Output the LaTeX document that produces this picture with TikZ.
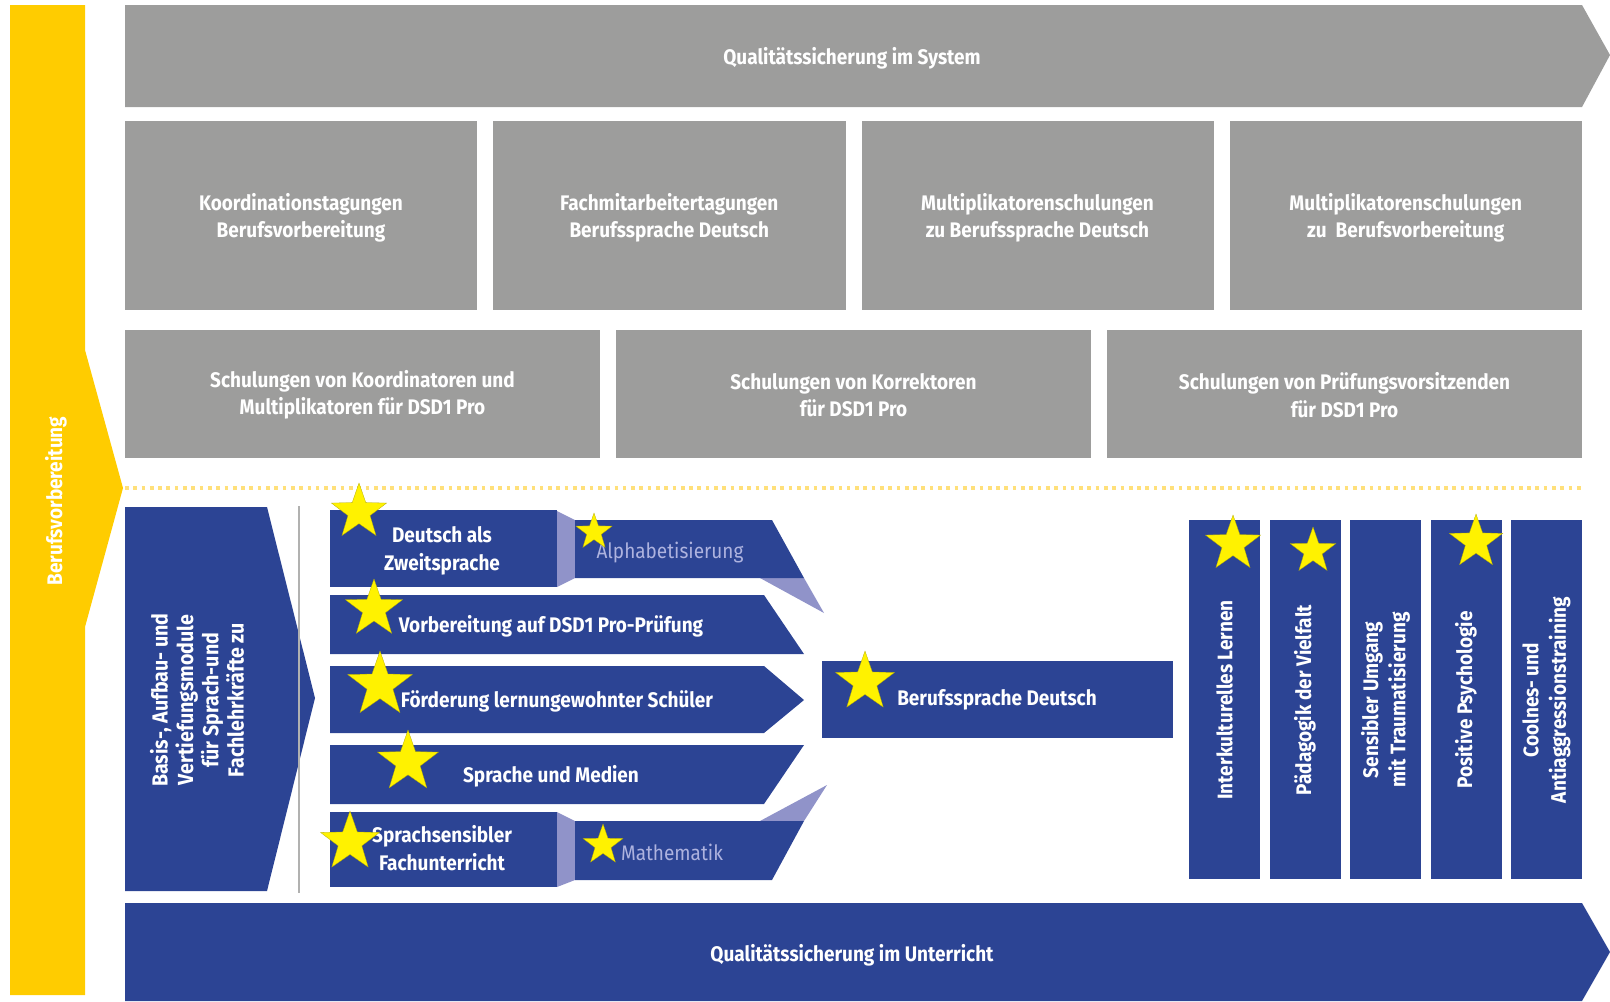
\documentclass[tikz,border=0pt]{standalone}
\usepackage{fontspec}
\setmainfont{Fira Sans}[FakeStretch=0.9]
\usetikzlibrary{shapes.geometric}

\definecolor{qgrey}{HTML}{9D9D9C}
\definecolor{qblue}{HTML}{2C4494}
\definecolor{qyellow}{HTML}{FFCC00}
\definecolor{qstar}{HTML}{FFF200}
\definecolor{qlav}{HTML}{9093C9}
\definecolor{qlavtext}{HTML}{AEB3DF}
\definecolor{qdot}{HTML}{FFE07A}

\tikzset{
  box text/.style={text=white, align=center, inner sep=0pt,
                   font=\bfseries\fontsize{15}{19.5}\selectfont},
  thin text/.style={text=qlavtext, inner sep=0pt,
                   font=\fontsize{15}{19.5}\selectfont},
  euro star/.style={star, star points=5, star point ratio=2.5, inner sep=0pt,
                   fill=qstar, draw=qstar!70!black, line width=0.2pt, minimum size=#1},
  euro star/.default=1.5cm
}

\begin{document}
\begin{tikzpicture}[x=0.025cm, y=-0.025cm]
\useasboundingbox (0,0) rectangle (1610,1001);

% Berufsvorbereitung
\fill[qyellow] (10,5) -- (85,5) -- (85,350) -- (123,488) -- (85,627) -- (85,995) -- (10,995) -- cycle;
\node[box text, rotate=90] (beruf) at (56,501) {Berufsvorbereitung};

% system level
\fill[qgrey] (125,5) -- (1582,5) -- (1610,55) -- (1582,107) -- (125,107) -- cycle;
\node[box text] (system) at (852,58) {Qualitätssicherung im System};

\foreach \x/\txt [count=\i] in {125/{Koordinationstagungen\\Berufsvorbereitung},
    493.25/{Fachmitarbeitertagungen\\Berufssprache Deutsch},
    861.5/{Multiplikatorenschulungen\\zu Berufssprache Deutsch},
    1229.75/{Multiplikatorenschulungen\\zu~ Berufsvorbereitung}}{
  \fill[qgrey] (\x,121) rectangle ++(352.25,189);
  \node[box text] (tagung\i) at (\x+176,218) {\txt};
}

\foreach \x/\txt [count=\i] in {125/{Schulungen von Koordinatoren und\\Multiplikatoren für DSD1 Pro},
    616/{Schulungen von Korrektoren\\für DSD1 Pro},
    1107/{Schulungen von Prüfungsvorsitzenden\\für DSD1 Pro}}{
  \fill[qgrey] (\x,330) rectangle ++(475,128);
  \node[box text] (schulung\i) at (\x+237.5,395) {\txt};
}

\draw[qdot, line width=2.4pt, dash pattern=on 2.6pt off 3.3pt] (125,488) -- (1582,488);

% Unterricht
\fill[qblue] (125,507) -- (267,507) -- (315,698) -- (267,891) -- (125,891) -- cycle;
\node[box text, rotate=90, font=\bfseries\fontsize{15.5}{18}\selectfont] (basis) at (197,700)
  {Basis-, Aufbau- und\\Vertiefungsmodule\\für Sprach-und\\Fachlehrkräfte zu};
\draw[qgrey!80, line width=1.2pt] (299,506) -- (299,893);

\fill[qblue] (330,510) rectangle (557,587);
\fill[qlav] (557,511) -- (575,520) -- (575,578) -- (557,587) -- cycle;
\fill[qlav] (760,578) -- (804,578) -- (824,613) -- cycle;
\fill[qblue] (575,520) -- (772,520) -- (804,578) -- (575,578) -- cycle;
\fill[qblue] (330,595) -- (764,595) -- (804,654) -- (330,654) -- cycle;
\fill[qblue] (330,666) -- (764,666) -- (804,700) -- (764,733) -- (330,733) -- cycle;
\fill[qblue] (330,745) -- (804,745) -- (764,804) -- (330,804) -- cycle;
\fill[qblue] (330,812) rectangle (557,887);
\fill[qlav] (557,812) -- (575,821) -- (575,880) -- (557,887) -- cycle;
\fill[qlav] (760,821) -- (804,821) -- (827,785) -- cycle;
\fill[qblue] (575,821) -- (804,821) -- (772,880) -- (575,880) -- cycle;

\node[box text] (daz) at (442,551) {Deutsch als\\Zweitsprache};
\node[thin text] (alpha) at (670,553) {Alphabetisierung};
\node[box text] (pruefung) at (551,626) {Vorbereitung auf DSD1 Pro-Prüfung};
\node[box text] (foerderung) at (557,701) {Förderung lernungewohnter Schüler};
\node[box text] (medien) at (551,776) {Sprache und Medien};
\node[box text] (fach) at (442,848) {Sprachsensibler\\Fachunterricht};
\node[thin text] (mathe) at (672,852) {Mathematik};

\fill[qblue] (822,661) rectangle (1173,738);
\node[box text] (bsd) at (997,700) {Berufssprache Deutsch};

\foreach \txt [count=\i] in {Interkulturelles Lernen, Pädagogik der Vielfalt,
    {Sensibler Umgang\\mit Traumatisierung}, Positive Psychologie,
    {Coolnes- und\\Antiaggressionstraining}}{
  \fill[qblue] (1189+80.5*\i-80.5,520) rectangle ++(71,359);
  \node[box text, rotate=90] (modul\i) at (1224.5+80.5*\i-80.5,700) {\txt};
}

\fill[qblue] (125,903) -- (1582,903) -- (1610,952) -- (1582,1001) -- (125,1001) -- cycle;
\node[box text] (unterricht) at (852,955) {Qualitätssicherung im Unterricht};

% stars
\node[euro star=1.45cm] (s1) at (359,512) {};
\node[euro star=0.95cm] (s2) at (594,532) {};
\node[euro star=1.5cm] (s3) at (374,609) {};
\node[euro star=1.7cm] (s4) at (380,685) {};
\node[euro star=1.6cm] (s5) at (408,762) {};
\node[euro star=1.55cm] (s6) at (350,842) {};
\node[euro star=1.05cm] (s7) at (603,845) {};
\node[euro star=1.55cm] (s8) at (865,682) {};
\node[euro star=1.45cm] (s9) at (1233,544) {};
\node[euro star=1.2cm] (s10) at (1313,551) {};
\node[euro star=1.4cm] (s11) at (1476,542) {};

\end{tikzpicture}
\end{document}
